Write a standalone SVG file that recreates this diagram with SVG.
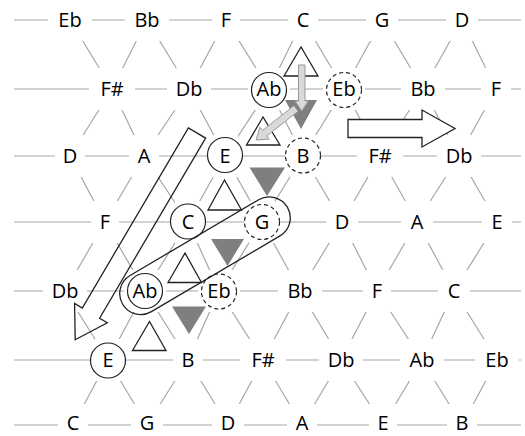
<svg xmlns="http://www.w3.org/2000/svg" width="525" height="436" viewBox="0 0 525 436">
<style>
.ln{stroke:#a6a6a6;stroke-width:1.2;fill:none}
.bg{fill:#fff}
.t{font-family:"Open Sans","Noto Sans",sans-serif;font-size:20px;fill:#000;text-anchor:middle}
.c{fill:#fff;stroke:#222;stroke-width:1.2}
.cd{fill:#fff;stroke:#222;stroke-width:1.2;stroke-dasharray:4 3}
.up{fill:#fff;stroke:#222;stroke-width:1.3}
.dn{fill:#7f7f7f}
.ol{fill:none;stroke:#222;stroke-width:1.3}
.ga{fill:#d9d9d9;stroke:#999;stroke-width:1}
</style>
<rect width="525" height="436" fill="#fff"/>
<g id="connectors" class="ln">
<path d="M14 20H521M14 89H521M14 156H521M14 222H521M14 291H521M14 360H521M14 425H521"/>
<path d="M70 20L112 89M147 20L112 89M147 20L189 89M226 20L189 89M226 20L269 89M303 20L269 89M303 20L344 89M382 20L344 89M382 20L423 89M462 20L423 89M462 20L496 89"/>
<path d="M112 89L70 156M112 89L144 156M189 89L144 156M189 89L225 156M269 89L225 156M269 89L303 156M344 89L303 156M344 89L380 156M423 89L380 156M423 89L459 156M496 89L459 156"/>
<path d="M70 156L105 222M144 156L105 222M144 156L188 222M225 156L188 222M225 156L262 222M303 156L262 222M303 156L342 222M380 156L342 222M380 156L417 222M459 156L417 222M459 156L497 222"/>
<path d="M105 222L65 291M105 222L145 291M188 222L145 291M188 222L219 291M262 222L219 291M262 222L300 291M342 222L300 291M342 222L377 291M417 222L377 291M417 222L454 291M497 222L454 291"/>
<path d="M65 291L108 360M145 291L108 360M145 291L188 360M219 291L188 360M219 291L263 360M300 291L263 360M300 291L341 360M377 291L341 360M377 291L422 360M454 291L422 360M454 291L497 360"/>
<path d="M108 360L73 425M108 360L147 425M188 360L147 425M188 360L228 425M263 360L228 425M263 360L302 425M341 360L302 425M341 360L383 425M422 360L383 425M422 360L462 425M497 360L462 425"/>
</g>
<g id="nodes">
<g id="r0n0"><rect class="bg" x="48" y="-1" width="44" height="42"/><text class="t" x="70" y="27">Eb</text></g>
<g id="r0n1"><rect class="bg" x="125" y="-1" width="44" height="42"/><text class="t" x="147" y="27">Bb</text></g>
<g id="r0n2"><rect class="bg" x="212" y="-1" width="28" height="42"/><text class="t" x="226" y="27">F</text></g>
<g id="r0n3"><rect class="bg" x="288" y="-1" width="30" height="42"/><text class="t" x="303" y="27">C</text></g>
<g id="r0n4"><rect class="bg" x="366" y="-1" width="32" height="42"/><text class="t" x="382" y="27">G</text></g>
<g id="r0n5"><rect class="bg" x="446" y="-1" width="32" height="42"/><text class="t" x="462" y="27">D</text></g>

<g id="r1n0"><rect class="bg" x="89" y="68" width="46" height="42"/><text class="t" x="112" y="96">F#</text></g>
<g id="r1n1"><rect class="bg" x="167" y="68" width="44" height="42"/><text class="t" x="189" y="96">Db</text></g>
<g id="r1n2"><rect class="bg" x="248" y="68" width="42" height="42"/><circle class="c" cx="269" cy="90" r="17.5"/><text class="t" x="269" y="96">Ab</text></g>
<g id="r1n3"><rect class="bg" x="323" y="68" width="42" height="42"/><circle class="cd" cx="344" cy="90" r="17.5"/><text class="t" x="344" y="96">Eb</text></g>
<g id="r1n4"><rect class="bg" x="401" y="68" width="44" height="42"/><text class="t" x="423" y="96">Bb</text></g>
<g id="r1n5"><rect class="bg" x="481" y="68" width="30" height="42"/><text class="t" x="496" y="96">F</text></g>

<g id="r2n0"><rect class="bg" x="55" y="135" width="30" height="42"/><text class="t" x="70" y="163">D</text></g>
<g id="r2n1"><rect class="bg" x="129" y="135" width="30" height="42"/><text class="t" x="144" y="163">A</text></g>
<g id="r2n2"><rect class="bg" x="212" y="135" width="26" height="42"/><circle class="c" cx="225" cy="155" r="17.5"/><text class="t" x="225" y="163">E</text></g>
<g id="r2n3"><rect class="bg" x="290" y="135" width="26" height="42"/><circle class="cd" cx="303" cy="155.5" r="17.5"/><text class="t" x="303" y="163">B</text></g>
<g id="r2n4"><rect class="bg" x="357" y="135" width="46" height="42"/><text class="t" x="380" y="163">F#</text></g>
<g id="r2n5"><rect class="bg" x="437" y="135" width="44" height="42"/><text class="t" x="459" y="163">Db</text></g>

<g id="r3n0"><rect class="bg" x="91" y="201" width="28" height="42"/><text class="t" x="105" y="229">F</text></g>
<g id="r3n1"><rect class="bg" x="175" y="201" width="26" height="42"/><circle class="c" cx="188" cy="221.5" r="17.5"/><text class="t" x="188" y="229">C</text></g>
<g id="r3n2"><rect class="bg" x="249" y="201" width="26" height="42"/><circle class="cd" cx="262" cy="222" r="17.5"/><text class="t" x="262" y="229">G</text></g>
<g id="r3n3"><rect class="bg" x="326" y="201" width="32" height="42"/><text class="t" x="342" y="229">D</text></g>
<g id="r3n4"><rect class="bg" x="401" y="201" width="32" height="42"/><text class="t" x="417" y="229">A</text></g>
<g id="r3n5"><rect class="bg" x="482" y="201" width="30" height="42"/><text class="t" x="497" y="229">E</text></g>

<g id="r4n0"><rect class="bg" x="43" y="270" width="44" height="42"/><text class="t" x="65" y="298">Db</text></g>
<g id="r4n1"><rect class="bg" x="124" y="270" width="42" height="42"/><circle class="c" cx="145" cy="291" r="17.5"/><text class="t" x="145" y="298">Ab</text></g>
<g id="r4n2"><rect class="bg" x="198" y="270" width="42" height="42"/><circle class="cd" cx="219" cy="291.5" r="17.5"/><text class="t" x="219" y="298">Eb</text></g>
<g id="r4n3"><rect class="bg" x="278" y="270" width="44" height="42"/><text class="t" x="300" y="298">Bb</text></g>
<g id="r4n4"><rect class="bg" x="363" y="270" width="28" height="42"/><text class="t" x="377" y="298">F</text></g>
<g id="r4n5"><rect class="bg" x="438" y="270" width="32" height="42"/><text class="t" x="454" y="298">C</text></g>

<g id="r5n0"><rect class="bg" x="95" y="339" width="26" height="42"/><circle class="c" cx="108" cy="360.5" r="17.5"/><text class="t" x="108" y="367">E</text></g>
<g id="r5n1"><rect class="bg" x="173" y="339" width="30" height="42"/><text class="t" x="188" y="367">B</text></g>
<g id="r5n2"><rect class="bg" x="240" y="339" width="46" height="42"/><text class="t" x="263" y="367">F#</text></g>
<g id="r5n3"><rect class="bg" x="319" y="339" width="44" height="42"/><text class="t" x="341" y="367">Db</text></g>
<g id="r5n4"><rect class="bg" x="400" y="339" width="44" height="42"/><text class="t" x="422" y="367">Ab</text></g>
<g id="r5n5"><rect class="bg" x="475" y="339" width="44" height="42"/><text class="t" x="497" y="367">Eb</text></g>

<g id="r6n0"><rect class="bg" x="58" y="404" width="30" height="32"/><text class="t" x="73" y="430">C</text></g>
<g id="r6n1"><rect class="bg" x="131" y="404" width="32" height="32"/><text class="t" x="147" y="430">G</text></g>
<g id="r6n2"><rect class="bg" x="212" y="404" width="32" height="32"/><text class="t" x="228" y="430">D</text></g>
<g id="r6n3"><rect class="bg" x="287" y="404" width="30" height="32"/><text class="t" x="302" y="430">A</text></g>
<g id="r6n4"><rect class="bg" x="369" y="404" width="28" height="32"/><text class="t" x="383" y="430">E</text></g>
<g id="r6n5"><rect class="bg" x="447" y="404" width="30" height="32"/><text class="t" x="462" y="430">B</text></g>
</g>
<g id="triads">
<polygon class="up" points="301,47 284,76 318,76"/>
<polygon class="up" points="263,117 246.5,145 280,145"/>
<polygon class="up" points="224.5,180 208,210 241.5,210"/>
<polygon class="up" points="185,253 168,282.5 201.5,282.5"/>
<polygon class="up" points="149.5,321.5 132.5,350.5 166,350.5"/>
<polygon class="dn" points="285,100 317,100 301,129"/>
<polygon class="dn" points="249.5,167.5 285,167.5 267,196"/>
<polygon class="dn" points="211,239 244,239 227.5,266"/>
<polygon class="dn" points="172,306.5 206,306.5 189,334"/>
</g>
<g id="oval"><rect class="ol" x="-95.6" y="-21" width="191.2" height="42" rx="21" transform="translate(205,255.7) rotate(-30.5)"/></g>
<g id="arrows">
<polygon id="bigArrow" class="ol" points="205.6,138.1 99.6,318.2 107.3,322.7 75.2,339.8 74.6,303.4 82.3,308 188.4,127.9"/>
<polygon id="rightArrow" class="up" points="348,119.5 422,119.5 422,110 455,128.5 422,147 422,137.5 348,137.5"/>
<polygon id="grayDiag" class="ga" points="293.8,105.75 262.5,130.4 260,127.3 256,140 269.3,139.1 266.8,135.9 298.2,111.25"/>
<polygon id="grayDown" class="ga" points="298.5,65 305,65 305,101 308.5,101 301.7,111 295,101 298.5,101"/>
</g>
</svg>
